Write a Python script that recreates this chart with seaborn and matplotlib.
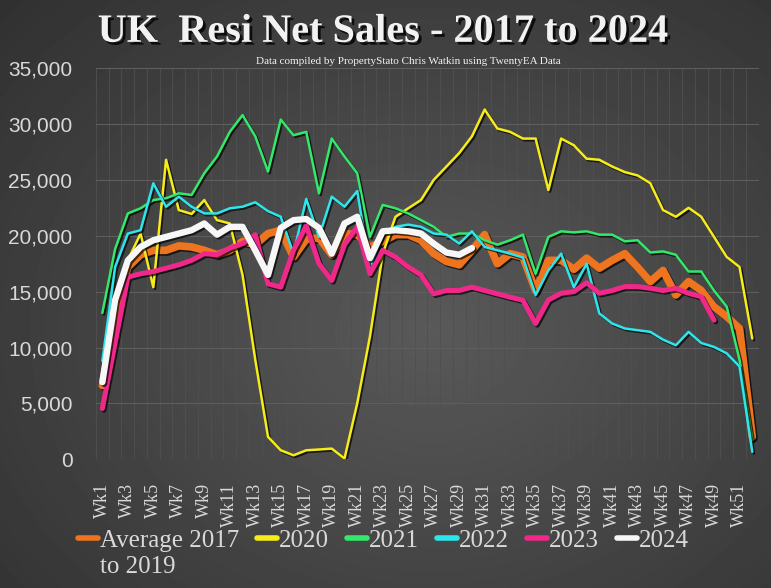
"""UK residential net sales by week, 2017-2024 (recreated chart)."""

import matplotlib

matplotlib.use("Agg")
import matplotlib.patheffects as pe
import matplotlib.pyplot as plt
import numpy as np
import pandas as pd
import seaborn as sns

# weekly net sales
avg_2017_2019 = [
    6600, 13000, 17200, 18300, 18700, 18700, 19100, 19000, 18700, 18300,
    18700, 19500, 19200, 20200, 20500, 18100, 19700, 19800, 18300, 20200,
    20100, 19000, 19500, 20100, 20100, 19600, 18400, 17700, 17400, 18700,
    20100, 17500, 18400, 18100, 15100, 17800, 17800, 17000, 18000, 17100,
    17800, 18400, 17200, 15900, 16900, 14700, 15900, 15100, 13650, 12750,
    11700, 2000,
]
sales_2020 = [
    6800, 14500, 17800, 20200, 15400, 26800, 22300, 21950, 23200, 21400,
    21100, 16500, 8900, 2000, 800, 350, 800, 870, 950, 60,
    5000, 11000, 18400, 21700, 22460, 23200, 25000, 26200, 27400, 28900,
    31300, 29600, 29300, 28700, 28700, 24100, 28700, 28100, 26900, 26800,
    26200, 25700, 25400, 24700, 22300, 21700, 22500, 21700, 19900, 18100,
    17200, 10800,
]
sales_2021 = [
    13100, 18800, 22000, 22460, 23200, 23360, 23800, 23650, 25600, 27100,
    29300, 30800, 28900, 25750, 30400, 29000, 29300, 23800, 28700, 27100,
    25600, 19900, 22760, 22460, 22000, 21400, 20800, 19900, 20200, 20200,
    19600, 19200, 19600, 20100, 16600, 19900, 20400, 20300, 20400, 20100,
    20100, 19500, 19600, 18500, 18600, 18300, 16800, 16800, 15100, 13650,
    8900, 1700,
]
sales_2022 = [
    8800, 17200, 20200, 20500, 24700, 22600, 23500, 22600, 22000, 22000,
    22460, 22600, 23000, 22200, 21700, 18400, 23300, 19900, 23500, 22600,
    24000, 17200, 20200, 20800, 21000, 20800, 20200, 20100, 19300, 20400,
    19000, 18700, 18400, 18050, 14700, 16900, 18400, 15400, 17500, 13050,
    12150, 11700, 11550, 11400, 10700, 10200, 11400, 10400, 10050, 9470,
    8300, 660,
]
sales_2023 = [
    4540, 10400, 16300, 16600, 16800, 17100, 17400, 17800, 18400, 18300,
    18900, 19300, 20100, 15700, 15400, 18700, 20900, 17500, 16000, 19200,
    20800, 16600, 18700, 18100, 17200, 16500, 14800, 15100, 15100, 15400,
    15100, 14800, 14500, 14230, 12150, 14250, 14850, 15000, 15800, 14850,
    15100, 15450, 15450, 15300, 15100, 15300, 14850, 14550, 12450,
]
sales_2024 = [
    6900, 14250, 17800, 19000, 19600, 19900, 20200, 20500, 21100, 20100,
    20800, 20800, 18700, 16500, 20700, 21400, 21500, 20700, 18400, 21100,
    21700, 18000, 20400, 20500, 20400, 20200, 19300, 18500, 18300, 18900,
]

series_labels = ["Average 2017", "2020", "2021", "2022", "2023", "2024"]
avg_label_tail = "to 2019"
series_values = [avg_2017_2019, sales_2020, sales_2021, sales_2022, sales_2023, sales_2024]
series_colors = ["#ee7420", "#f5ec1a", "#33e86a", "#2ce6ec", "#f0288a", "#f7f7f7"]
series_widths = [5.5, 1.8, 1.8, 1.8, 3.6, 4.6]

week_labels = [f"Wk{w}" for w in range(1, 53)]

frames = []
for label, vals in zip(series_labels, series_values):
    frames.append(pd.DataFrame({"week": np.arange(1, len(vals) + 1),
                                "sales": vals, "series": label}))
df = pd.concat(frames, ignore_index=True)

sns.set_theme(style="dark")
text_grey = "#d9d9d9"
serif = ["Liberation Serif", "DejaVu Serif"]

fig = plt.figure(figsize=(7.71, 5.88), dpi=100)

# dark radial background like the source slide
bg = fig.add_axes([0, 0, 1, 1], zorder=-10)
gy, gx = np.mgrid[0:588, 0:771]
dist = np.sqrt(((gx - 430) / 520.0) ** 2 + ((gy - 330) / 420.0) ** 2)
shade = np.clip(0.35 - 0.14 * dist, 0.19, 0.35)
bg.imshow(shade, cmap="gray", vmin=0, vmax=1, aspect="auto")
bg.axis("off")

ax = fig.add_axes([0.1245, 0.219, 0.8595, 0.665])
ax.set_facecolor("none")

shadow = [pe.SimpleLineShadow(offset=(1.2, -1.2), shadow_color="black", alpha=0.7),
          pe.Normal()]
for i, (label, color, lw) in enumerate(zip(series_labels, series_colors, series_widths)):
    sns.lineplot(data=df[df["series"] == label], x="week", y="sales",
                 color=color, linewidth=lw, label=label, ax=ax,
                 zorder=3 + i, path_effects=shadow,
                 solid_joinstyle="round", solid_capstyle="round")

ax.set_xlim(0.5, 52.5)
ax.set_ylim(0, 35000)
ax.set_yticks(range(0, 35001, 5000))
ax.set_yticklabels([f"{v:,}" for v in range(0, 35001, 5000)],
                   family=["Liberation Sans Narrow", "Liberation Sans"],
                   fontsize=15, color=text_grey)
ax.set_xticks(range(1, 53, 2))
ax.set_xticklabels(week_labels[::2], rotation=90, family=serif,
                   fontsize=13, color=text_grey)
ax.set_xticks(np.arange(0.5, 53, 1), minor=True)
ax.tick_params(axis="x", which="both", length=0, pad=17)
ax.tick_params(axis="y", length=0, pad=17)
ax.grid(True, axis="y", which="major", color="#5e5e5e", linewidth=0.8)
ax.grid(True, axis="x", which="minor", color="#505050", linewidth=0.6)
ax.grid(False, axis="x", which="major")
ax.set_xlabel("")
ax.set_ylabel("")
for spine in ax.spines.values():
    spine.set_visible(False)

handles, labels = ax.get_legend_handles_labels()
ax.get_legend().remove()
leg = fig.legend(handles, labels, loc="center left", bbox_to_anchor=(0.101, 0.080),
                 ncol=6, frameon=False, handlelength=0.8, handletextpad=0.08,
                 columnspacing=0.72, borderpad=0, borderaxespad=0,
                 prop={"family": serif, "size": 18})
for txt in leg.get_texts():
    txt.set_color(text_grey)
for ln in leg.get_lines():
    ln.set_linewidth(4)
    ln.set_path_effects([])

# second line of the first legend label, under its first line
fig.canvas.draw()
first_box = leg.get_texts()[0].get_window_extent()
fig.text(first_box.x0 / fig.bbox.width, 0.036, avg_label_tail, ha="left", va="center",
         family=serif, fontsize=18, color=text_grey)

title_shadow = [pe.withSimplePatchShadow(offset=(2, -2), shadow_rgbFace="black", alpha=0.8)]
fig.text(0.497, 0.945, "UK  Resi Net Sales - 2017 to 2024", ha="center", va="center",
         family=serif, fontweight="bold",
         fontsize=29, color="#f2f2f2", path_effects=title_shadow)
fig.text(0.53, 0.895, "Data compiled by PropertyStato Chris Watkin using TwentyEA Data",
         ha="center", va="center", family=serif,
         fontsize=8, color="#f2f2f2")

fig.savefig("out.png", dpi=100, facecolor="#3a3a3a")
